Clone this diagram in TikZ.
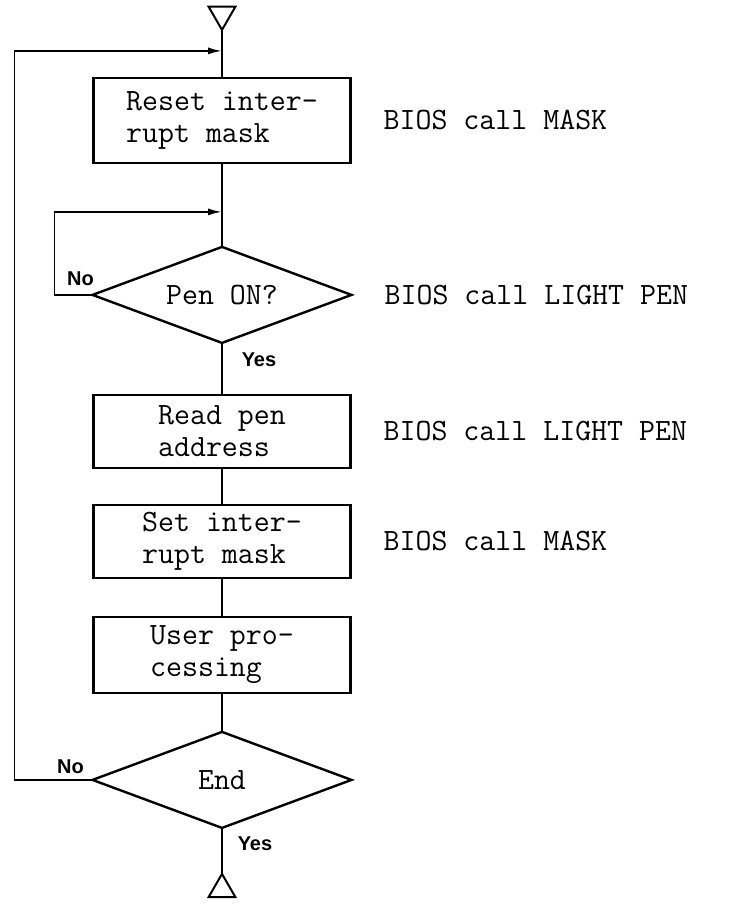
\documentclass[tikz,border=0pt]{standalone}
\usepackage{fontspec}
\newfontfamily\labelfont{Liberation Sans}
\usepackage{tikz}
\usetikzlibrary{shapes.geometric, arrows.meta, positioning}

\begin{document}
\begin{tikzpicture}[
  node distance=40pt,
  box/.style={rectangle, draw, line width=2.4pt, minimum width=257pt, minimum height=76pt, align=left, inner sep=0pt, outer sep=0pt, font=\ttfamily\fontsize{31}{32}\selectfont},
  decision/.style={diamond, draw, line width=2.4pt, aspect=2.7, minimum width=259pt, minimum height=96pt, inner sep=0pt, outer sep=0pt, font=\ttfamily\fontsize{31}{32}\selectfont},
  term/.style={regular polygon, regular polygon sides=3, draw, line width=2pt, minimum size=31pt, inner sep=0pt, outer sep=0pt},
  note/.style={inner sep=0pt, font=\ttfamily\fontsize{31}{32}\selectfont},
  answer/.style={inner sep=0pt, font=\labelfont\bfseries\fontsize{20}{22}\selectfont},
  line/.style={line width=1.8pt},
  arr/.style={line width=1.8pt, -{Latex[length=14pt,width=7pt]}}
]
\useasboundingbox (-222pt,14.4pt) rectangle (524pt,-906.6pt);

% Nodes
\node[term, shape border rotate=180] (start) at (0,0) {};
\coordinate[below=21pt of start] (j1);
\node[box, minimum height=85pt, below=48pt of start] (reset) {Reset inter-\\rupt mask};
\coordinate[below=49pt of reset] (j2);
\node[decision, below=84pt of reset] (pen) {Pen ON?};
\node[box, minimum height=73pt, below=52pt of pen] (read) {Read pen\\address};
\node[box, minimum height=73pt, below=37pt of read] (set) {Set inter-\\rupt mask};
\node[box, below=39pt of set] (user) {User pro-\\cessing};
\node[decision, below=39pt of user] (stop) {End};
\node[term, below=46pt of stop] (finish) {};

% BIOS calls
\node[note, right=33pt of reset] (mask1) {BIOS call MASK};
\node[note, right=33pt of pen] (light1) {BIOS call LIGHT PEN};
\node[note, right=33pt of read] (light2) {BIOS call LIGHT PEN};
\node[note, right=33pt of set] (mask2) {BIOS call MASK};

% Branch labels
\node[answer] (no1) at ([shift={(-12pt,16pt)}]pen.west) {No};
\node[answer] (yes1) at ([shift={(37pt,-17pt)}]pen.south) {Yes};
\node[answer] (no2) at ([shift={(-22pt,13pt)}]stop.west) {No};
\node[answer] (yes2) at ([shift={(33pt,-16pt)}]stop.south) {Yes};

% Edges
\draw[line] (start) -- (reset);
\draw[line] (reset) -- (pen);
\draw[line] (pen) -- (read);
\draw[line] (read) -- (set);
\draw[line] (set) -- (user);
\draw[line] (user) -- (stop);
\draw[line] (stop) -- (finish);

% Loops back
\draw[arr] (pen.west) -- ++(-38pt,0) |- (j2);
\draw[arr] (stop.west) -- ++(-78pt,0) |- (j1);

\end{tikzpicture}
\end{document}
